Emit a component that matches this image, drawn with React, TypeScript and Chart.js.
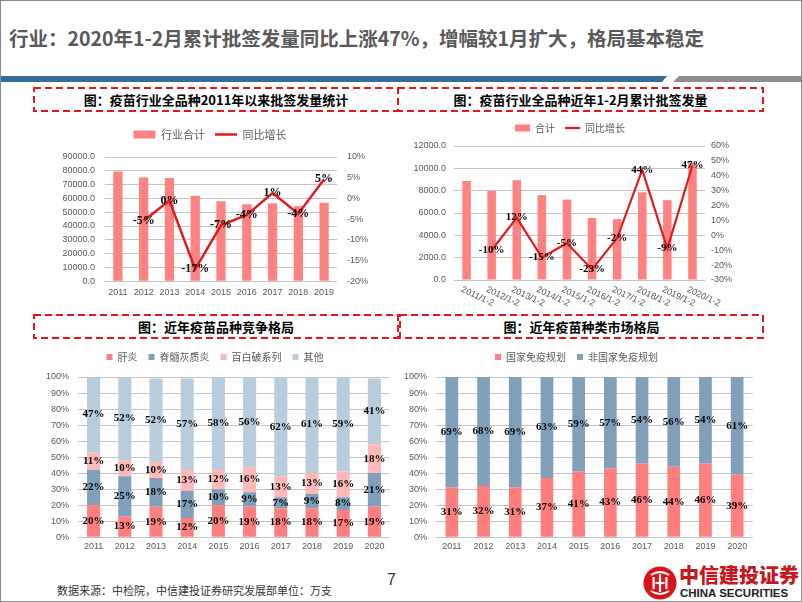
import React, { useEffect, useRef } from "react";
import { Chart, registerables } from "chart.js";
Chart.register(...registerables);

// ---------- data ----------
const years1 = ["2011", "2012", "2013", "2014", "2015", "2016", "2017", "2018", "2019"];
const total1 = [79500, 75200, 74800, 62000, 58000, 55700, 56400, 54300, 56800];
const growth1 = [null, -5.4, -0.5, -17.1, -6.5, -4.0, 1.3, -3.7, 4.6];
const growth1Labels = ["", "-5%", "0%", "-17%", "-7%", "-4%", "1%", "-4%", "5%"];

const periods2 = ["2011/1-2", "2012/1-2", "2013/1-2", "2014/1-2", "2015/1-2", "2016/1-2", "2017/1-2", "2018/1-2", "2019/1-2", "2020/1-2"];
const total2 = [8870, 7980, 8930, 7600, 7200, 5550, 5450, 7850, 7150, 10500];
const growth2 = [null, -10.0, 11.9, -14.9, -5.3, -22.9, -1.8, 44.0, -8.9, 46.9];
const growth2Labels = ["", "-10%", "12%", "-15%", "-5%", "-23%", "-2%", "44%", "-9%", "47%"];

const years3 = ["2011", "2012", "2013", "2014", "2015", "2016", "2017", "2018", "2019", "2020"];
const hepatitis = [20, 13, 19, 12, 20, 19, 18, 18, 17, 19];
const polio = [22, 25, 18, 17, 10, 9, 7, 9, 8, 21];
const dtp = [11, 10, 10, 13, 12, 16, 13, 13, 16, 18];
const others = [47, 52, 52, 57, 58, 56, 62, 61, 59, 41];

const nip = [31, 32, 31, 37, 41, 43, 46, 44, 46, 39];
const nonNip = [69, 68, 69, 63, 59, 57, 54, 56, 54, 61];

// ---------- styles ----------
const SALMON = "#FF8282";
const RED = "#E31A1C";
const C_HEP = "#FF7F7F";
const C_POLIO = "#7F9FBA";
const C_DTP = "#FFB9B9";
const C_OTHER = "#B8CCDC";
const GRID = "#C4C4C4";
const TICK = "#595959";
const CJK = "'Noto Sans CJK SC', 'Noto Sans', sans-serif";
const SANS = "'Liberation Sans', Arial, sans-serif";
const SERIF = "'Liberation Serif', 'Times New Roman', serif";

const pct = (a: number[]) => a.map((v) => v + "%");

// ---------- plugins ----------
const valueLabels = {
  id: "valueLabels",
  afterDatasetsDraw(chart: any) {
    const ctx = chart.ctx;
    chart.data.datasets.forEach((ds: any, di: number) => {
      const labels = ds.valueLabels;
      if (!labels) return;
      const meta = chart.getDatasetMeta(di);
      ctx.save();
      ctx.font = ds.labelFont;
      ctx.fillStyle = "#000";
      ctx.textAlign = "center";
      ctx.textBaseline = "middle";
      meta.data.forEach((el: any, i: number) => {
        const t = labels[i];
        if (!t) return;
        const y = meta.type === "bar" ? (el.y + el.base) / 2 : el.y;
        ctx.fillText(t, el.x, y);
      });
      ctx.restore();
    });
  },
};

const legendGap = (extra: number) => ({
  id: "legendGap",
  beforeInit(chart: any) {
    const legend = chart.legend;
    if (!legend) return;
    const fit = legend.fit;
    legend.fit = function () {
      fit.call(this);
      this.height += extra;
    };
  },
});

const slantLabels = {
  id: "slantLabels",
  afterDraw(chart: any) {
    const xs = chart.scales.x;
    const ctx = chart.ctx;
    ctx.save();
    ctx.font = `9px ${SANS}`;
    ctx.fillStyle = TICK;
    ctx.textAlign = "left";
    ctx.textBaseline = "top";
    chart.data.labels.forEach((lab: string, i: number) => {
      const x = xs.getPixelForTick(i);
      ctx.save();
      ctx.translate(x - 3, xs.top + 5);
      ctx.rotate((25 * Math.PI) / 180);
      ctx.fillText(lab, 0, 0);
      ctx.restore();
    });
    ctx.restore();
  },
};

// ---------- chart component ----------
function ChartBox(props: { left: number; top: number; width: number; height: number; make: () => any }) {
  const ref = useRef<HTMLCanvasElement>(null);
  useEffect(() => {
    const chart = new Chart(ref.current as HTMLCanvasElement, props.make());
    return () => chart.destroy();
  }, []);
  return (
    <div style={{ position: "absolute", left: props.left, top: props.top, width: props.width, height: props.height }}>
      <canvas ref={ref} width={props.width} height={props.height} style={{ width: props.width, height: props.height, display: "block" }} />
    </div>
  );
}

const tickFont = { family: SANS, size: 9 };

function yAxis(min: number, max: number, step: number, fmt: (v: number) => string, width: number, pad: number, grid: boolean, right = false) {
  return {
    position: right ? "right" : "left",
    min,
    max,
    ticks: { stepSize: step, autoSkip: false, callback: (v: any) => fmt(Number(v)), color: TICK, font: tickFont, padding: pad },
    grid: { display: grid, color: GRID, drawTicks: false },
    border: { display: false },
    afterFit: (s: any) => {
      s.width = width;
    },
  };
}

const xAxis = (pad: number) => ({
  grid: { display: false, drawTicks: false },
  border: { display: false },
  ticks: { color: TICK, font: tickFont, padding: pad, autoSkip: false, maxRotation: 0, minRotation: 0 },
});

function legendOpts(size: number, boxW: number, boxH: number, pointStyle: boolean, pad: number) {
  return {
    display: true,
    position: "top",
    labels: {
      usePointStyle: pointStyle,
      pointStyleWidth: pointStyle ? boxW : undefined,
      boxWidth: boxW,
      boxHeight: boxH,
      padding: pad,
      color: TICK,
      font: { family: CJK, size },
      sort: (a: any, b: any) => a.datasetIndex - b.datasetIndex,
    },
  };
}

const chart1 = () => ({
  type: "bar",
  data: {
    labels: years1,
    datasets: [
      { type: "bar", label: "行业合计", data: total1, backgroundColor: SALMON, yAxisID: "y", barPercentage: 0.36, categoryPercentage: 1, order: 1, pointStyle: "rect" },
      { type: "line", label: "同比增长", data: growth1, borderColor: RED, backgroundColor: RED, borderWidth: 2.5, pointRadius: 0, yAxisID: "y1", order: 0, pointStyle: "line", valueLabels: growth1Labels, labelFont: `bold 12px ${SERIF}` },
    ],
  },
  options: {
    animation: false,
    responsive: false,
    layout: { padding: { left: 0, right: 0, top: 0, bottom: 1 } },
    plugins: { legend: legendOpts(11, 22, 8, true, 10), tooltip: { enabled: false } },
    scales: {
      x: xAxis(6),
      y: yAxis(0, 90000, 10000, (v) => v.toFixed(1), 65, 10, true),
      y1: yAxis(-20, 10, 5, (v) => v + "%", 43, 10, false, true),
    },
  },
  plugins: [valueLabels, legendGap(7)],
});

const chart2 = () => ({
  type: "bar",
  data: {
    labels: periods2,
    datasets: [
      { type: "bar", label: "合计", data: total2, backgroundColor: SALMON, yAxisID: "y", barPercentage: 0.34, categoryPercentage: 1, order: 1, pointStyle: "rect" },
      { type: "line", label: "同比增长", data: growth2, borderColor: RED, backgroundColor: RED, borderWidth: 2.2, pointRadius: 0, yAxisID: "y1", order: 0, pointStyle: "line", valueLabels: growth2Labels, labelFont: `bold 11px ${SERIF}` },
    ],
  },
  options: {
    animation: false,
    responsive: false,
    layout: { padding: { left: 0, right: 0, top: 0, bottom: 33 } },
    plugins: { legend: legendOpts(10, 15, 7, true, 10), tooltip: { enabled: false } },
    scales: {
      x: { grid: { display: false, drawTicks: false }, border: { display: false }, ticks: { display: false } },
      y: yAxis(0, 12000, 2000, (v) => v.toFixed(1), 54, 8, true),
      y1: yAxis(-30, 60, 10, (v) => v + "%", 35, 6, false, true),
    },
  },
  plugins: [valueLabels, legendGap(3), slantLabels],
});

const stackedOpts = (leftW: number, rightPad: number) => ({
  animation: false,
  responsive: false,
  layout: { padding: { left: 0, right: rightPad, top: 0, bottom: 1 } },
  plugins: { legend: legendOpts(10, 6, 6, false, 11), tooltip: { enabled: false } },
  scales: {
    x: { ...xAxis(4), stacked: true },
    y: { ...yAxis(0, 100, 10, (v) => v + "%", leftW, 9, true), stacked: true },
  },
});

const barFont = `bold 11px ${SERIF}`;

const chart3 = () => ({
  type: "bar",
  data: {
    labels: years3,
    datasets: [
      { label: "肝炎", data: hepatitis, backgroundColor: C_HEP, barPercentage: 0.42, categoryPercentage: 1, valueLabels: pct(hepatitis), labelFont: barFont },
      { label: "脊髓灰质炎", data: polio, backgroundColor: C_POLIO, barPercentage: 0.42, categoryPercentage: 1, valueLabels: pct(polio), labelFont: barFont },
      { label: "百白破系列", data: dtp, backgroundColor: C_DTP, barPercentage: 0.42, categoryPercentage: 1, valueLabels: pct(dtp), labelFont: barFont },
      { label: "其他", data: others, backgroundColor: C_OTHER, barPercentage: 0.42, categoryPercentage: 1, valueLabels: pct(others), labelFont: barFont },
    ],
  },
  options: stackedOpts(38, 5),
  plugins: [valueLabels, legendGap(5)],
});

const chart4 = () => ({
  type: "bar",
  data: {
    labels: years3,
    datasets: [
      { label: "国家免疫规划", data: nip, backgroundColor: C_HEP, barPercentage: 0.4, categoryPercentage: 1, valueLabels: pct(nip), labelFont: barFont },
      { label: "非国家免疫规划", data: nonNip, backgroundColor: C_POLIO, barPercentage: 0.4, categoryPercentage: 1, valueLabels: pct(nonNip), labelFont: barFont },
    ],
  },
  options: stackedOpts(36, 7),
  plugins: [valueLabels, legendGap(5)],
});

// ---------- page pieces ----------
function DashBox(props: { x: number; y: number; w: number; h: number; title: string }) {
  return (
    <div style={{ position: "absolute", left: props.x - 1, top: props.y - 1, width: props.w + 2, height: props.h + 2 }}>
      <svg width={props.w + 2} height={props.h + 2} style={{ position: "absolute", left: 0, top: 0 }}>
        <rect x={1} y={1} width={props.w} height={props.h} fill="none" stroke="#E8141B" strokeWidth={2} strokeDasharray="7 4" />
      </svg>
      <div
        style={{
          position: "absolute",
          left: 0,
          top: 0,
          width: props.w + 2,
          height: props.h + 2,
          lineHeight: props.h + 2 + "px",
          textAlign: "center",
          fontFamily: CJK,
          fontWeight: 700,
          fontSize: 13,
          color: "#000",
          whiteSpace: "nowrap",
        }}
      >
        {props.title}
      </div>
    </div>
  );
}

function Logo() {
  return (
    <div style={{ position: "absolute", left: 641, top: 563, width: 160, height: 38 }}>
      <svg width={36} height={36} style={{ position: "absolute", left: 0, top: 1 }}>
        <circle cx={18} cy={18} r={16.5} fill="#D7141C" />
        <path d="M9 10 Q18 4 27 10" stroke="#fff" strokeWidth={2} fill="none" />
        <path d="M9 26 Q18 32 27 26" stroke="#fff" strokeWidth={2} fill="none" />
        <rect x={10.5} y={12} width={2.2} height={12} fill="#fff" />
        <rect x={16.9} y={9} width={2.2} height={18} fill="#fff" />
        <rect x={23.3} y={12} width={2.2} height={12} fill="#fff" />
        <rect x={13.5} y={16.9} width={9} height={2.2} fill="#fff" />
      </svg>
      <div style={{ position: "absolute", left: 37, top: -1, fontFamily: CJK, fontWeight: 900, fontSize: 20, lineHeight: "24px", color: "#C8161E", whiteSpace: "nowrap", letterSpacing: 0 }}>
        中信建投证券
      </div>
      <div style={{ position: "absolute", left: 38, top: 23, fontFamily: SANS, fontWeight: 700, fontSize: 11.5, lineHeight: "13px", color: "#222", whiteSpace: "nowrap" }}>
        CHINA SECURITIES
      </div>
    </div>
  );
}

export default function App() {
  return (
    <div
      style={{
        position: "fixed",
        left: 0,
        top: 0,
        width: 802,
        height: 602,
        boxSizing: "border-box",
        border: "1px solid #8A8A8A",
        background: "#fff",
        overflow: "hidden",
        fontFamily: CJK,
      }}
    >
      <div style={{ position: "absolute", left: 8, top: 22, fontSize: 19.5, fontWeight: 700, lineHeight: "30px", color: "#595959", whiteSpace: "nowrap" }}>
        行业：2020年1-2月累计批签发量同比上涨47%，增幅较1月扩大，格局基本稳定
      </div>
      <div style={{ position: "absolute", left: -1, top: 75, width: 670, height: 6, background: "#356C97", clipPath: "polygon(0 0, 667px 0, 662px 100%, 0 100%)" }} />
      <div style={{ position: "absolute", left: 672, top: 75, width: 130, height: 6, background: "#8E8E8E", clipPath: "polygon(6px 0, 100% 0, 100% 100%, 0 100%)" }} />

      <DashBox x={33} y={87} w={364} h={23} title="图：疫苗行业全品种2011年以来批签发量统计" />
      <DashBox x={397} y={87} w={365} h={23} title="图：疫苗行业全品种近年1-2月累计批签发量" />
      <DashBox x={33} y={314} w={364} h={23} title="图：近年疫苗品种竞争格局" />
      <DashBox x={399} y={314} w={363} h={23} title="图：近年疫苗种类市场格局" />

      <ChartBox left={39} top={118} width={340} height={186} make={chart1} />
      <ChartBox left={399} top={112} width={340} height={200} make={chart2} />
      <ChartBox left={39} top={340} width={355} height={216} make={chart3} />
      <ChartBox left={399} top={340} width={360} height={216} make={chart4} />

      <div style={{ position: "absolute", left: 56, top: 581, fontSize: 11, lineHeight: "16px", color: "#333", whiteSpace: "nowrap" }}>
        数据来源：中检院，中信建投证券研究发展部单位：万支
      </div>
      <div style={{ position: "absolute", left: 386, top: 569, fontSize: 16, lineHeight: "20px", color: "#333", fontFamily: SANS }}>7</div>
      <Logo />
    </div>
  );
}
